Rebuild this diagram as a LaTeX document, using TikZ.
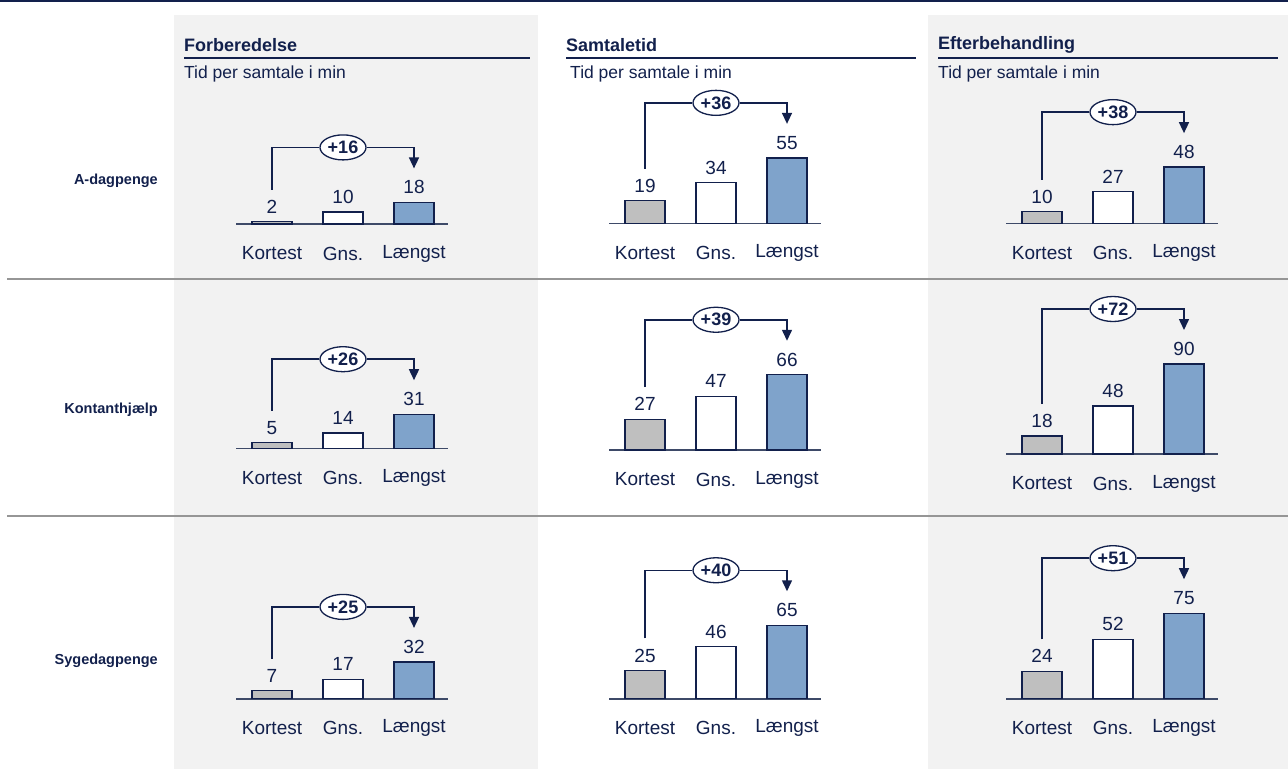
\documentclass[tikz,border=0pt]{standalone}
\usepackage{fontspec}
\setmainfont{Liberation Sans}
\usetikzlibrary{arrows.meta,shapes.geometric}
\definecolor{navy}{RGB}{18,32,76}
\definecolor{panel}{RGB}{242,242,242}
\definecolor{kgray}{RGB}{191,191,191}
\definecolor{lblue}{RGB}{127,163,203}
\definecolor{axisc}{RGB}{62,74,104}
\definecolor{sepc}{RGB}{150,150,150}

% One small bar chart: name, centre x, baseline y, px per minute,
% shortest, average, longest, difference
\newcommand\barchart[8]{%
  \pgfmathsetmacro\bhk{max(#4*#5,2.4)}
  \pgfmathsetmacro\bhg{#4*#6}
  \pgfmathsetmacro\bhl{#4*#7}
  \draw[axis] (#2-107,#3) -- (#2+105,#3);
  \node[bar,fill=kgray,minimum height=\bhk] (#1k) at (#2-71,#3) {};
  \node[bar,fill=white,minimum height=\bhg] (#1g) at (#2,#3) {};
  \node[bar,fill=lblue,minimum height=\bhl] (#1l) at (#2+71,#3) {};
  \node[ctxt] (#1kv) at ([yshift=15]#1k.north) {#5};
  \node[ctxt] (#1gv) at ([yshift=15]#1g.north) {#6};
  \node[ctxt] (#1lv) at ([yshift=15]#1l.north) {#7};
  \node[ctxt] (#1kc) at (#2-71,#3+29.5) {Kortest};
  \node[ctxt] (#1gc) at (#2,#3+29.5) {Gns.};
  \node[ctxt] (#1lc) at (#2+71,#3+29.5) {Længst};
  \coordinate (#1s) at ([yshift=17]#1kv.center);
  \coordinate (#1e) at ([yshift=19]#1lv.center);
  \node[pill] (#1p) at (#2,#3-\bhl-55) {+#8};
  \draw[conn] (#1s) |- (#1p.west);
  \draw[conn,-{Triangle[length=11,width=10]}] (#1p.east) -| (#1e);
}

\begin{document}
\begin{tikzpicture}[x=1pt,y=-1pt,
  txt/.style={font=\fontsize{17.5}{20}\selectfont,text=navy,inner sep=0},
  ctxt/.style={font=\fontsize{19}{22}\selectfont,text=navy,inner sep=0},
  btxt/.style={font=\fontsize{18}{20}\selectfont\bfseries,text=navy,inner sep=0},
  rtxt/.style={font=\fontsize{14.5}{17}\selectfont\bfseries,text=navy,inner sep=0},
  bar/.style={draw=navy,line width=1.3,minimum width=40,inner sep=0,outer sep=0,anchor=south},
  pill/.style={ellipse,draw=navy,fill=white,line width=1.3,minimum width=46,minimum height=25,inner sep=0,
    font=\fontsize{18}{20}\selectfont\bfseries,text=navy},
  conn/.style={draw=navy,line width=1.5},
  axis/.style={draw=axisc,line width=1.6},
  hrule/.style={draw=navy,line width=2},
  sep/.style={draw=sepc,line width=2}]
\useasboundingbox (0,0) rectangle (1288,774);

% shaded columns
\fill[panel] (174,15) rectangle (538,769);
\fill[panel] (928,15) rectangle (1288,769);

% top rule
\draw[hrule] (0,1) -- (1288,1);

% row separators
\draw[sep] (7,279) -- (1288,279);
\draw[sep] (7,516) -- (1288,516);

% column headings
\node[btxt,anchor=west] (h1) at (184,45) {Forberedelse};
\node[btxt,anchor=west] (h2) at (566,45) {Samtaletid};
\node[btxt,anchor=west] (h3) at (938,45) {Efterbehandling};
\draw[hrule] (184,58) -- (530,58);
\draw[hrule] (566,58) -- (916,58);
\draw[hrule] (938,58) -- (1278,58);
\node[txt,anchor=west] (u1) at (184,74) {Tid per samtale i min};
\node[txt,anchor=west] (u2) at (570,74) {Tid per samtale i min};
\node[txt,anchor=west] (u3) at (938,74) {Tid per samtale i min};

% row headings
\node[rtxt,anchor=east] (r1) at (158,181) {A-dagpenge};
\node[rtxt,anchor=east] (r2) at (158,410) {Kontanthjælp};
\node[rtxt,anchor=east] (r3) at (158,661) {Sygedagpenge};

% charts
\barchart{aa}{343}{224}{1.2}{2}{10}{18}{16}
\barchart{ab}{716}{223.3}{1.19}{19}{34}{55}{36}
\barchart{ac}{1113}{223.3}{1.17}{10}{27}{48}{38}
\barchart{ba}{343}{448.3}{1.1}{5}{14}{31}{26}
\barchart{bb}{716}{450}{1.14}{27}{47}{66}{39}
\barchart{bc}{1113}{454}{1.0}{18}{48}{90}{72}
\barchart{ca}{343}{698.7}{1.15}{7}{17}{32}{25}
\barchart{cb}{716}{698.7}{1.13}{25}{46}{65}{40}
\barchart{cc}{1113}{698.7}{1.14}{24}{52}{75}{51}
\end{tikzpicture}
\end{document}
